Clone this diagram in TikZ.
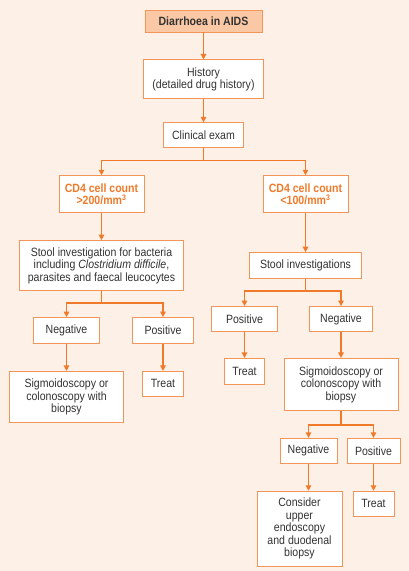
\documentclass[tikz,border=0pt]{standalone}
\usepackage{fontspec}
\setmainfont{Liberation Sans}[FakeStretch=0.88]
\usetikzlibrary{positioning,arrows.meta}
\definecolor{org}{HTML}{F07A2A}
\definecolor{orgl}{HTML}{F39458}
\definecolor{bgc}{HTML}{FDF0E6}
\definecolor{topf}{HTML}{FAC8A4}
\definecolor{txt}{HTML}{333333}
\tikzset{
  >={Triangle[length=5.5pt,width=5.5pt]},
  box/.style={draw=orgl, line width=0.9pt, fill=white, align=center, inner sep=1pt,
              text=txt, font=\fontsize{12}{12.5}\selectfont},
  head/.style={box, fill=topf, font=\fontsize{12}{12.5}\selectfont\bfseries},
  cd/.style={box, text=org, font=\fontsize{12}{12.5}\selectfont\bfseries},
  l/.style={->, draw=org, line width=1.3pt},
}
\begin{document}
\begin{tikzpicture}
  \fill[bgc] (0,0) rectangle (409pt,-571pt);
  \useasboundingbox (0,0) rectangle (409pt,-571pt);
  \node[head,minimum width=117pt,minimum height=22pt] (dia) at (203.5pt,-21pt) {Diarrhoea in AIDS};
  \node[box,minimum width=120pt,minimum height=39pt,below=27pt of dia] (hist) {History\\(detailed drug history)};
  \node[box,minimum width=80pt,minimum height=25pt,below=23pt of hist] (clin) {Clinical exam};
  \node[cd,minimum width=85pt,minimum height=37pt,below=27pt of clin,xshift=-102pt] (cdlo) {CD4 cell count\\>200/mm\textsuperscript{3}};
  \node[cd,minimum width=85pt,minimum height=37pt,below=27pt of clin,xshift=102pt] (cdhi) {CD4 cell count\\<100/mm\textsuperscript{3}};
  % left branch
  \node[box,minimum width=164pt,minimum height=50pt,below=27pt of cdlo] (stoolL) {Stool investigation for bacteria\\including \textit{Clostridium difficile},\\parasites and faecal leucocytes};
  \node[box,minimum width=66pt,minimum height=26pt,below=26pt of stoolL,xshift=-35pt] (negL) {Negative};
  \node[box,minimum width=61pt,minimum height=26pt,below=26pt of stoolL,xshift=61.5pt] (posL) {Positive};
  \node[box,minimum width=114pt,minimum height=51pt,below=27pt of negL] (sigL) {Sigmoidoscopy or\\colonoscopy with\\biopsy};
  \node[box,minimum width=41pt,minimum height=25pt,below=27pt of posL] (treatL) {Treat};
  % right branch
  \node[box,minimum width=112pt,minimum height=26pt,below=39pt of cdhi] (stoolR) {Stool investigations};
  \node[box,minimum width=66pt,minimum height=25pt,below=27pt of stoolR,xshift=-61pt] (posR) {Positive};
  \node[box,minimum width=63pt,minimum height=25pt,below=27pt of stoolR,xshift=35.5pt] (negR) {Negative};
  \node[box,minimum width=40pt,minimum height=26pt,below=26pt of posR] (treatR) {Treat};
  \node[box,minimum width=114pt,minimum height=52pt,below=26pt of negR] (sigR) {Sigmoidoscopy or\\colonoscopy with\\biopsy};
  \node[box,minimum width=57pt,minimum height=25pt,below=27pt of sigR,xshift=-32.5pt] (negRR) {Negative};
  \node[box,minimum width=53pt,minimum height=25pt,below=27pt of sigR,xshift=32.5pt] (posRR) {Positive};
  \node[box,minimum width=85pt,minimum height=75pt,below=27pt of negRR,xshift=-9pt] (cons) {Consider\\upper\\endoscopy\\and duodenal\\biopsy};
  \node[box,minimum width=41pt,minimum height=25pt,below=27pt of posRR] (treatRR) {Treat};
  % connectors
  \draw[l](dia)--(hist);\draw[l](hist)--(clin);
  \draw[l](clin.south)--++(0,-12pt)-|(cdlo.north);
  \draw[l](clin.south)--++(0,-12pt)-|(cdhi.north);
  \draw[l](cdlo)--(stoolL);\draw[l](cdhi)--(stoolR);
  \draw[l](stoolL.south)--++(0,-12pt)-|(negL.north);
  \draw[l](stoolL.south)--++(0,-12pt)-|(posL.north);
  \draw[l](negL)--(sigL);\draw[l](posL)--(treatL);
  \draw[l](stoolR.south)--++(0,-12pt)-|(posR.north);
  \draw[l](stoolR.south)--++(0,-12pt)-|(negR.north);
  \draw[l](posR)--(treatR);\draw[l](negR)--(sigR);
  \draw[l](sigR.south)--++(0,-14pt)-|(negRR.north);
  \draw[l](sigR.south)--++(0,-14pt)-|(posRR.north);
  \draw[l](negRR.south)--(negRR.south|-cons.north);
  \draw[l](posRR)--(treatRR);
\end{tikzpicture}
\end{document}
